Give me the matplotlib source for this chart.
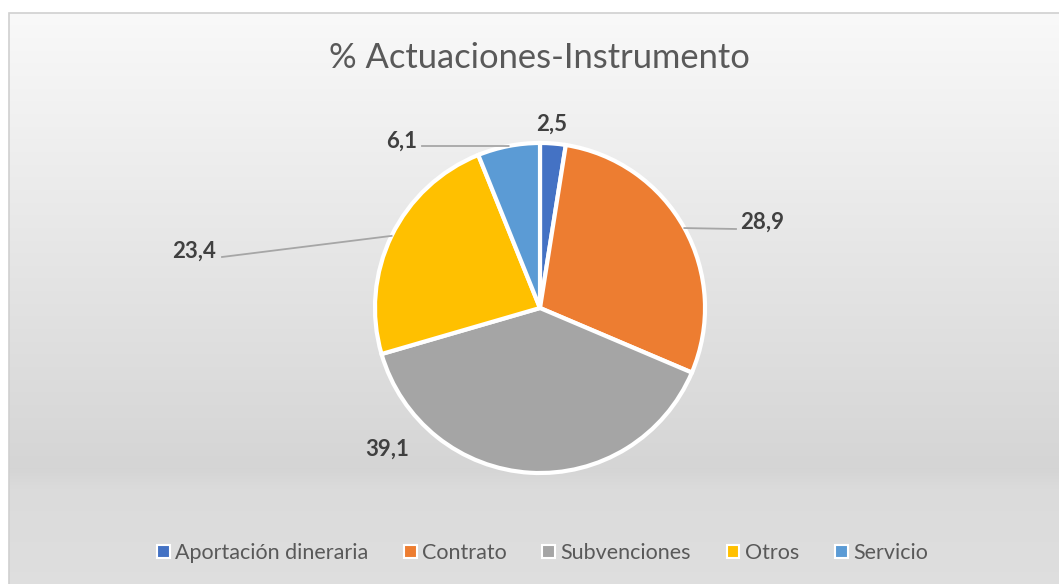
import matplotlib.pyplot as plt
import numpy as np
from matplotlib.patches import Rectangle

# data
categorias = ['Aportación dineraria', 'Contrato', 'Subvenciones', 'Otros', 'Servicio']
valores = [2.5, 28.9, 39.1, 23.4, 6.1]
etiquetas = ['2,5', '28,9', '39,1', '23,4', '6,1']
colores = ['#4472C4', '#ED7D31', '#A5A5A5', '#FFC000', '#5B9BD5']
titulo = '% Actuaciones-Instrumento'

W, H = 1059, 584
plt.rcParams['font.family'] = ['Lato', 'DejaVu Sans']

fig = plt.figure(figsize=(W / 100, H / 100), dpi=100)
ax = fig.add_axes([0, 0, 1, 1])
ax.set_xlim(0, W)
ax.set_ylim(0, H)
ax.set_aspect('equal')
ax.axis('off')

# gradient background (chart area)
yy = np.linspace(13, H, 300)
gris = np.interp(yy, [13, 470, 490, 584], [0.976, 0.835, 0.86, 0.872])
grad = np.repeat(gris[:, None], 2, axis=1)
ax.imshow(np.dstack([grad, grad, grad]), extent=(9, W + 2, 0, H - 13),
          origin='upper', aspect='auto', zorder=0)
ax.add_patch(Rectangle((9, -2), W, H - 13 + 2, fill=False, edgecolor='#d0d0d0', lw=1.2, zorder=1))

cx, cy, r = 540, H - 308, 165
wedges, _ = ax.pie(valores, colors=colores, startangle=90, counterclock=False,
                   center=(cx, cy), radius=r, explode=[0.022] * 5,
                   wedgeprops=dict(edgecolor='white', linewidth=3), frame=True)
ax.set_xlim(0, W)
ax.set_ylim(0, H)
ax.axis('off')

# label positions (pixels, top-left origin) and leader line end
pos_lbl = [(552, 124), (762, 222), (387, 449), (194, 251), (402, 141)]
fin_linea = [None, (736, 229), None, (222, 257), (422, 146)]
for w, txt, p, f in zip(wedges, etiquetas, pos_lbl, fin_linea):
    ang = np.deg2rad((w.theta1 + w.theta2) / 2)
    ax.text(p[0], H - p[1], txt, ha='center', va='center', fontsize=16,
            fontweight='bold', color='#404040', zorder=5)
    if f is not None:
        x0 = w.center[0] + w.r * np.cos(ang)
        y0 = w.center[1] + w.r * np.sin(ang)
        ax.plot([x0, f[0]], [y0, H - f[1]], color='#a6a6a6', lw=1.3, zorder=4)

ax.text(539, H - 58, titulo, ha='center', va='center', fontsize=24.8, color='#595959')

handles = [Rectangle((0, 0), 1, 1, facecolor=c, edgecolor='white', lw=1.5) for c in colores]
leg = fig.legend(handles, categorias, loc='center', bbox_to_anchor=(0.512, (H - 553) / H),
                 ncol=5, frameon=False, fontsize=15.5, handlelength=0.6, handleheight=0.6,
                 handletextpad=0.25, columnspacing=1.65, labelcolor='#595959')

fig.savefig('out.png', dpi=100)
